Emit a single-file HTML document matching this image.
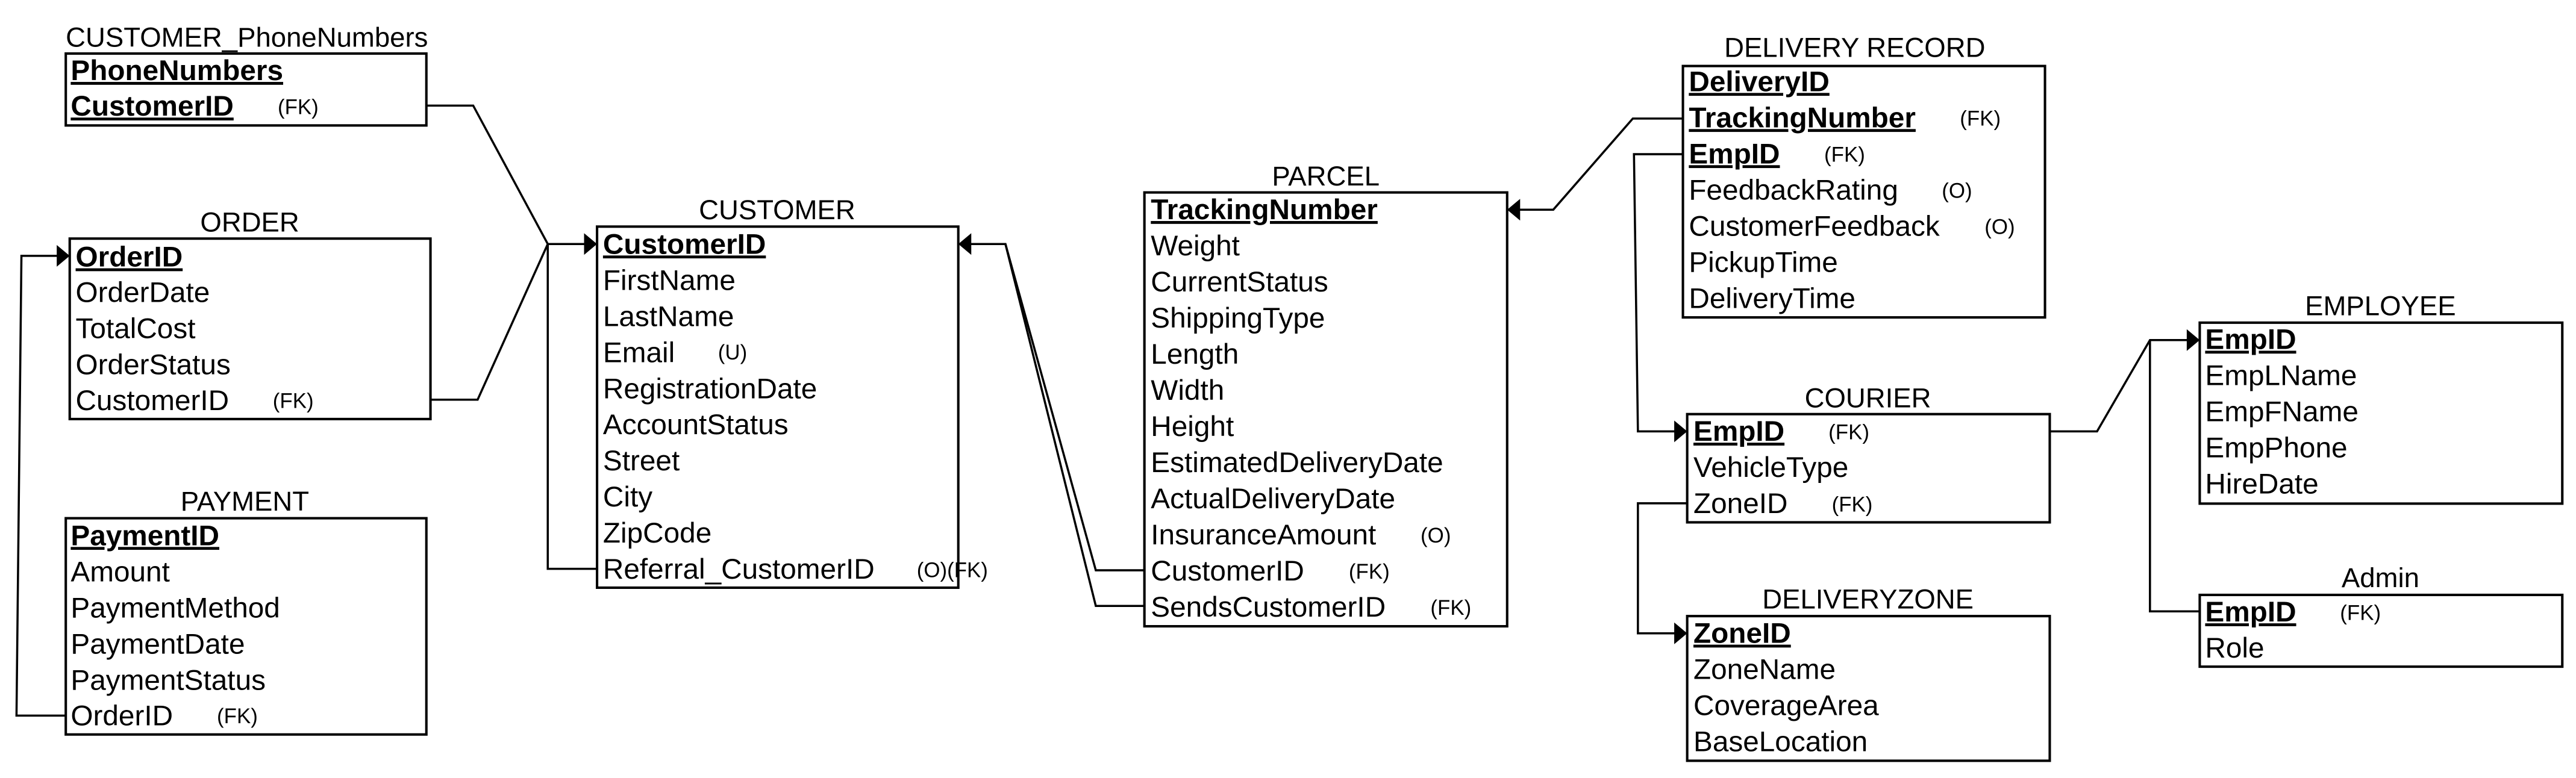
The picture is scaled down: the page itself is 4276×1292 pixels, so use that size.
<!DOCTYPE html>
<html><head><meta charset="utf-8"><style>
html,body{margin:0;padding:0;background:#fff;}
svg{display:block;}
text{font-family:"Liberation Sans",Arial,sans-serif;fill:#000;}
.t{font-size:17.5px;}
.k{font-size:17.5px;font-weight:bold;text-decoration:underline;}
.s{font-size:12.8px;}
.h{font-size:16.7px;text-anchor:middle;}
.h2{font-size:16.7px;}
.b{fill:#fff;stroke:#000;stroke-width:1.5;}
.l{fill:none;stroke:#000;stroke-width:1.3;}
</style></head><body>
<svg width="4276" height="1292" viewBox="0 0 1568 473.8" xmlns="http://www.w3.org/2000/svg">
<!-- connectors -->
<polyline class="l" points="259.5,64.3 288,64.3 333.4,148.6"/>
<polyline class="l" points="262,243.4 290.7,243.4 333.4,148.6 358,148.6"/>
<polyline class="l" points="363.4,346.4 333.4,346.4 333.4,148.6"/>
<polyline class="l" points="40,435.8 10,435.8 13,155.8 37,155.8"/>
<polyline class="l" points="589,148.6 612,148.6 667,347.3 697,347.3"/>
<polyline class="l" points="612,148.6 667,369 697,369"/>
<polyline class="l" points="923,127.7 945.5,127.7 993.9,72.2 1024.4,72.2"/>
<polyline class="l" points="1024.4,93.9 994.6,93.9 997,262.7 1021,262.7"/>
<polyline class="l" points="1027,306.5 997,306.5 997,385.7 1021,385.7"/>
<polyline class="l" points="1247.7,262.7 1276.5,262.7 1308.7,207.1 1333,207.1"/>
<polyline class="l" points="1308.7,207.1 1308.7,372.3 1339,372.3"/>
<!-- arrowheads -->
<polygon points="363.4,148.6 355.5,142 355.5,155.2"/>
<polygon points="42.4,155.8 34.5,149.2 34.5,162.4"/>
<polygon points="583.3,148.6 591.2,142 591.2,155.2"/>
<polygon points="917.4,127.7 925.3,121.1 925.3,134.3"/>
<polygon points="1027,262.7 1019.1,256.1 1019.1,269.3"/>
<polygon points="1027,385.7 1019.1,379.1 1019.1,392.3"/>
<polygon points="1339,207.1 1331.1,200.5 1331.1,213.7"/>

<!-- CUSTOMER_PhoneNumbers -->
<text class="h2" x="40" y="28.5">CUSTOMER_PhoneNumbers</text>
<rect class="b" x="40" y="32.6" width="219.5" height="43.8"/>
<text class="k" x="43" y="48.8">PhoneNumbers</text>
<text class="k" x="43" y="70.5">CustomerID</text>
<text class="s" x="169" y="69.5">(FK)</text>

<!-- ORDER -->
<text class="h" x="152" y="141">ORDER</text>
<rect class="b" x="42.4" y="145.3" width="219.6" height="109.9"/>
<text class="k" x="46" y="162.3">OrderID</text>
<text class="t" x="46" y="184">OrderDate</text>
<text class="t" x="46" y="206">TotalCost</text>
<text class="t" x="46" y="228">OrderStatus</text>
<text class="t" x="46" y="249.8">CustomerID</text>
<text class="s" x="166" y="248.5">(FK)</text>

<!-- PAYMENT -->
<text class="h" x="149" y="311">PAYMENT</text>
<rect class="b" x="40" y="315.6" width="219.5" height="131.7"/>
<text class="k" x="43" y="332">PaymentID</text>
<text class="t" x="43" y="354">Amount</text>
<text class="t" x="43" y="376">PaymentMethod</text>
<text class="t" x="43" y="398">PaymentDate</text>
<text class="t" x="43" y="420">PaymentStatus</text>
<text class="t" x="43" y="441.8">OrderID</text>
<text class="s" x="132" y="440.5">(FK)</text>

<!-- CUSTOMER -->
<text class="h" x="473" y="133.5">CUSTOMER</text>
<rect class="b" x="363.4" y="138" width="219.9" height="219.9"/>
<text class="k" x="367" y="154.5">CustomerID</text>
<text class="t" x="367" y="176.5">FirstName</text>
<text class="t" x="367" y="198.5">LastName</text>
<text class="t" x="367" y="220.5">Email</text>
<text class="s" x="437" y="219">(U)</text>
<text class="t" x="367" y="242.5">RegistrationDate</text>
<text class="t" x="367" y="264.5">AccountStatus</text>
<text class="t" x="367" y="286.5">Street</text>
<text class="t" x="367" y="308.5">City</text>
<text class="t" x="367" y="330.5">ZipCode</text>
<text class="t" x="367" y="352.5">Referral_CustomerID</text>
<text class="s" x="558" y="351.5">(O)(FK)</text>

<!-- PARCEL -->
<text class="h" x="807" y="113">PARCEL</text>
<rect class="b" x="696.6" y="117.2" width="220.8" height="264.2"/>
<text class="k" x="700.5" y="133.5">TrackingNumber</text>
<text class="t" x="700.5" y="155.5">Weight</text>
<text class="t" x="700.5" y="177.5">CurrentStatus</text>
<text class="t" x="700.5" y="199.5">ShippingType</text>
<text class="t" x="700.5" y="221.5">Length</text>
<text class="t" x="700.5" y="243.5">Width</text>
<text class="t" x="700.5" y="265.5">Height</text>
<text class="t" x="700.5" y="287.5">EstimatedDeliveryDate</text>
<text class="t" x="700.5" y="309.5">ActualDeliveryDate</text>
<text class="t" x="700.5" y="331.5">InsuranceAmount</text>
<text class="s" x="864.7" y="330.5">(O)</text>
<text class="t" x="700.5" y="353.5">CustomerID</text>
<text class="s" x="821" y="352.5">(FK)</text>
<text class="t" x="700.5" y="375.5">SendsCustomerID</text>
<text class="s" x="870.7" y="374.5">(FK)</text>

<!-- DELIVERY RECORD -->
<text class="h" x="1129" y="34.7">DELIVERY RECORD</text>
<rect class="b" x="1024.4" y="40.2" width="220.4" height="153.1"/>
<text class="k" x="1028" y="55.5">DeliveryID</text>
<text class="k" x="1028" y="77.5">TrackingNumber</text>
<text class="s" x="1193" y="76.5">(FK)</text>
<text class="k" x="1028" y="99.5">EmpID</text>
<text class="s" x="1110.4" y="98.5">(FK)</text>
<text class="t" x="1028" y="121.5">FeedbackRating</text>
<text class="s" x="1182" y="120.5">(O)</text>
<text class="t" x="1028" y="143.5">CustomerFeedback</text>
<text class="s" x="1208" y="142.5">(O)</text>
<text class="t" x="1028" y="165.5">PickupTime</text>
<text class="t" x="1028" y="187.5">DeliveryTime</text>

<!-- COURIER -->
<text class="h" x="1137" y="248">COURIER</text>
<rect class="b" x="1027" y="252.2" width="220.7" height="65.9"/>
<text class="k" x="1030.8" y="268.5">EmpID</text>
<text class="s" x="1113" y="267.5">(FK)</text>
<text class="t" x="1030.8" y="290.5">VehicleType</text>
<text class="t" x="1030.8" y="312.5">ZoneID</text>
<text class="s" x="1115" y="311.5">(FK)</text>

<!-- DELIVERYZONE -->
<text class="h" x="1137" y="370.6">DELIVERYZONE</text>
<rect class="b" x="1027" y="375.2" width="220.7" height="88.1"/>
<text class="k" x="1030.8" y="391.5">ZoneID</text>
<text class="t" x="1030.8" y="413.5">ZoneName</text>
<text class="t" x="1030.8" y="435.5">CoverageArea</text>
<text class="t" x="1030.8" y="457.5">BaseLocation</text>

<!-- EMPLOYEE -->
<text class="h" x="1449" y="192">EMPLOYEE</text>
<rect class="b" x="1339" y="196.5" width="220.7" height="110.2"/>
<text class="k" x="1342.3" y="212.5">EmpID</text>
<text class="t" x="1342.3" y="234.5">EmpLName</text>
<text class="t" x="1342.3" y="256.5">EmpFName</text>
<text class="t" x="1342.3" y="278.5">EmpPhone</text>
<text class="t" x="1342.3" y="300.5">HireDate</text>

<!-- Admin -->
<text class="h" x="1449" y="357.5">Admin</text>
<rect class="b" x="1339" y="362.3" width="220.7" height="43.7"/>
<text class="k" x="1342.3" y="378.5">EmpID</text>
<text class="s" x="1424.4" y="377.5">(FK)</text>
<text class="t" x="1342.3" y="400.5">Role</text>
</svg>
</body></html>
